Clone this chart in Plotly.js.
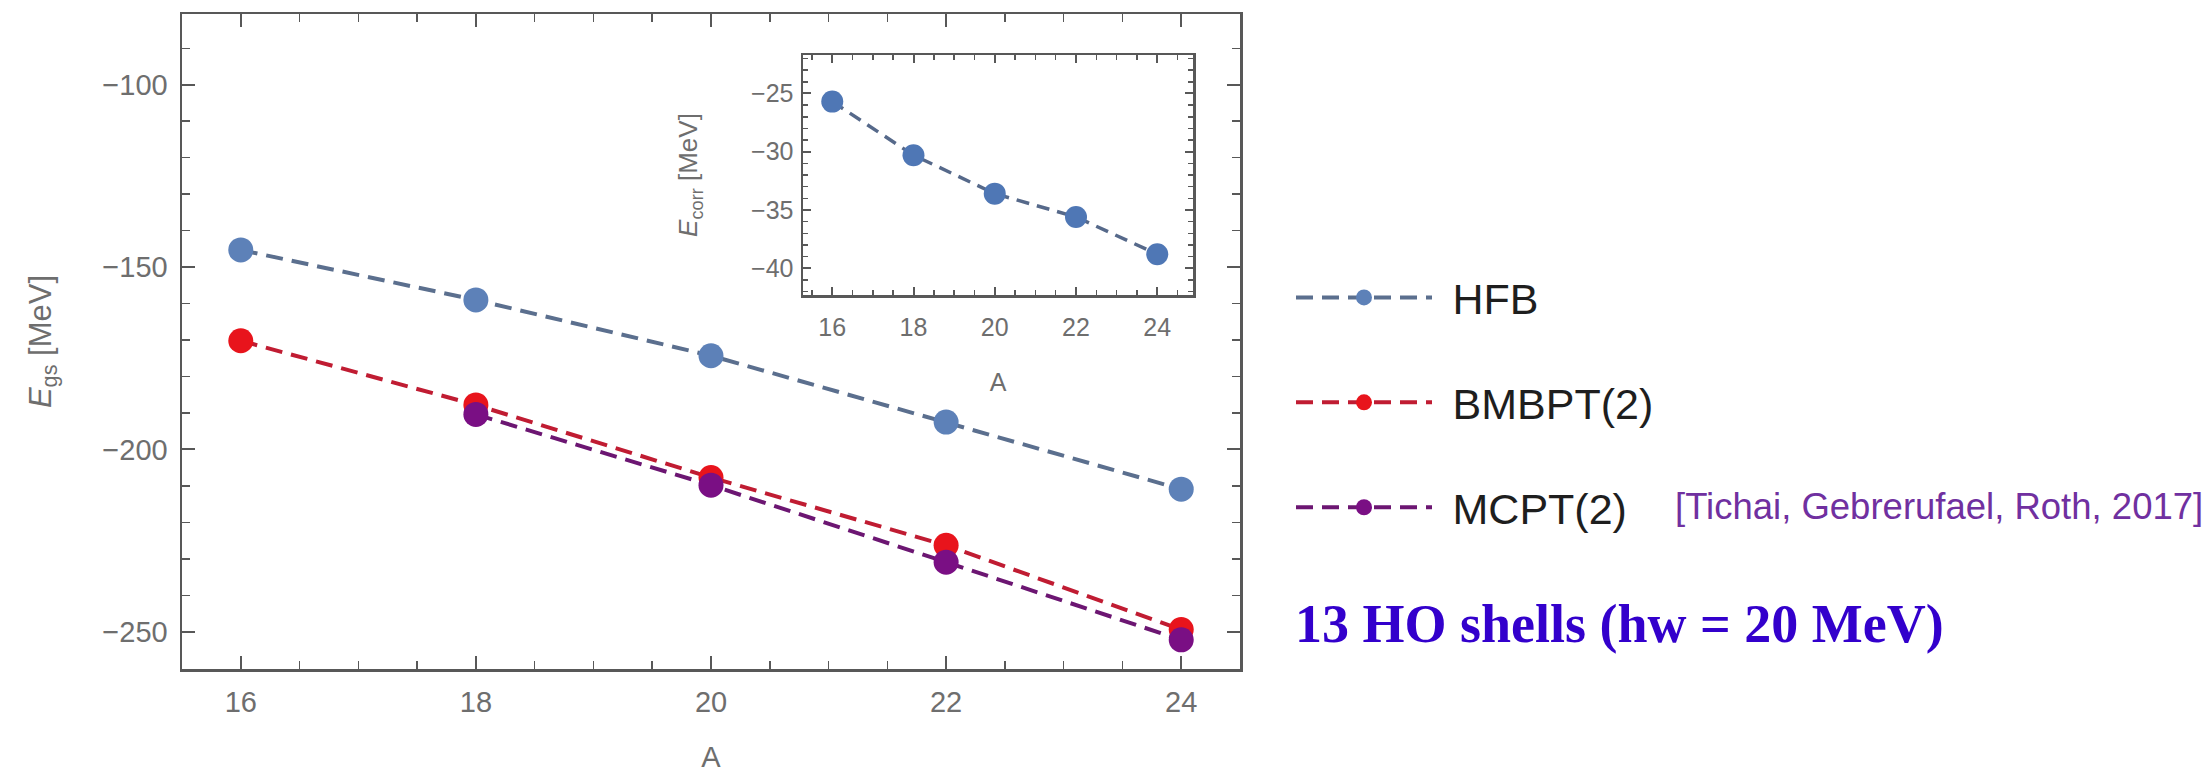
<!DOCTYPE html>
<html>
<head>
<meta charset="utf-8">
<script src="https://cdn.plot.ly/plotly-3.0.1.min.js"></script>
<style>html,body{margin:0;padding:0;background:#fff;}#chart{width:2212px;height:780px;}</style>
</head>
<body>
<div id="chart"></div>
<script>
// ---- data ----
const massNumbers = [16, 18, 20, 22, 24];
const hfbEnergy   = [-145.3, -159.0, -174.3, -192.5, -210.9];
const bmbptEnergy = [-170.2, -187.8, -207.7, -226.3, -249.4];
const mcptMass    = [18, 20, 22, 24];
const mcptEnergy  = [-190.4, -209.8, -230.9, -252.2];
const corrEnergy  = [-25.7, -30.3, -33.6, -35.6, -38.8];
const seriesNames = ['HFB', 'BMBPT(2)', 'MCPT(2)'];

const W = 2212, H = 780;
const px = v => v / W;
const py = v => 1 - v / H;

const fam = 'Liberation Sans, Arial, sans-serif';
const tickFont = {family: fam, size: 29, color: '#6e6e6e'};
const insetFont = {family: fam, size: 25, color: '#6e6e6e'};
const axisCol = '#585858';
const dash = '17px,9px';
const pad = '\u00a0\u200a';

const traces = [
  {x: massNumbers, y: hfbEnergy, name: pad + seriesNames[0], type: 'scatter', mode: 'lines+markers',
   line: {color: '#5b6f8e', width: 4, dash: dash}, marker: {color: '#5d81b8', size: 25},
   legendgroup: 'a', xaxis: 'x', yaxis: 'y'},
  {x: massNumbers, y: bmbptEnergy, name: pad + seriesNames[1], type: 'scatter', mode: 'lines+markers',
   line: {color: '#c01c32', width: 4, dash: dash}, marker: {color: '#e8141c', size: 25},
   legendgroup: 'b', xaxis: 'x', yaxis: 'y'},
  {x: mcptMass, y: mcptEnergy, name: pad + seriesNames[2], type: 'scatter', mode: 'lines+markers',
   line: {color: '#6c1672', width: 4, dash: dash}, marker: {color: '#7a0f84', size: 25},
   legendgroup: 'c', xaxis: 'x', yaxis: 'y'},
  {x: massNumbers, y: corrEnergy, name: 'Ecorr', type: 'scatter', mode: 'lines+markers',
   line: {color: '#56698a', width: 3.5, dash: '13px,8px'}, marker: {color: '#4f77b5', size: 22},
   showlegend: false, xaxis: 'x2', yaxis: 'y2'}
];

const layout = {
  width: W, height: H,
  margin: {l: 0, r: 0, t: 0, b: 0},
  paper_bgcolor: '#fff', plot_bgcolor: 'rgba(0,0,0,0)',
  showlegend: true,
  xaxis: {
    domain: [px(182), px(1240)], range: [15.5, 24.5], anchor: 'y',
    tickvals: massNumbers, ticktext: massNumbers.map(String),
    ticks: 'inside', ticklen: 13, tickwidth: 2, tickcolor: axisCol,
    minor: {dtick: 0.5, ticks: 'inside', ticklen: 8, tickwidth: 1.5, tickcolor: axisCol, showgrid: false},
    showline: true, linecolor: axisCol, linewidth: 2.5, mirror: 'allticks',
    showgrid: false, zeroline: false, tickfont: tickFont, ticklabelstandoff: 6,
    title: {text: 'A', font: {family: fam, size: 29, color: '#6e6e6e'}, standoff: 30}
  },
  yaxis: {
    domain: [py(669), py(14)], range: [-260.2, -80.6], anchor: 'x',
    dtick: 50, tick0: 0,
    ticks: 'inside', ticklen: 13, tickwidth: 2, tickcolor: axisCol,
    minor: {dtick: 10, ticks: 'inside', ticklen: 8, tickwidth: 1.5, tickcolor: axisCol, showgrid: false},
    showline: true, linecolor: axisCol, linewidth: 2.5, mirror: 'allticks',
    showgrid: false, zeroline: false, tickfont: tickFont, ticklabelstandoff: 6,
    title: {text: '<i>E</i><sub>gs</sub> [MeV]', font: {family: fam, size: 31, color: '#6e6e6e'}, standoff: 42}
  },
  xaxis2: {
    domain: [px(803), px(1193)], range: [15.28, 24.88], anchor: 'y2',
    tickvals: massNumbers, ticktext: massNumbers.map(String),
    ticks: 'inside', ticklen: 8, tickwidth: 2, tickcolor: axisCol,
    minor: {dtick: 0.5, ticks: 'inside', ticklen: 5, tickwidth: 1.5, tickcolor: axisCol, showgrid: false},
    showline: true, linecolor: axisCol, linewidth: 2.5, mirror: 'allticks',
    showgrid: false, zeroline: false, tickfont: insetFont, ticklabelstandoff: 8,
    title: {text: 'A', font: {family: fam, size: 25, color: '#6e6e6e'}, standoff: 34}
  },
  yaxis2: {
    domain: [py(295), py(55)], range: [-42.3, -21.7], anchor: 'x2',
    dtick: 5, tick0: 0,
    ticks: 'inside', ticklen: 8, tickwidth: 2, tickcolor: axisCol,
    minor: {dtick: 1, ticks: 'inside', ticklen: 5, tickwidth: 1.5, tickcolor: axisCol, showgrid: false},
    showline: true, linecolor: axisCol, linewidth: 2.5, mirror: 'allticks',
    showgrid: false, zeroline: false, tickfont: insetFont, ticklabelstandoff: 2,
    title: {text: '<i>E</i><sub>corr</sub> [MeV]', font: {family: fam, size: 26, color: '#6e6e6e'}, standoff: 46}
  },
  legend: {
    x: px(1291), xanchor: 'left', y: py(263), yanchor: 'top',
    font: {family: fam, size: 43, color: '#1e1e1e'},
    itemwidth: 136, traceorder: 'grouped', tracegroupgap: 46,
    bgcolor: 'rgba(0,0,0,0)', borderwidth: 0
  },
  shapes: [
    {type: 'rect', xref: 'paper', yref: 'paper', x0: px(803), x1: px(1193), y0: py(295), y1: py(55),
     fillcolor: '#fff', line: {width: 0}, layer: 'below'}
  ],
  annotations: [
    {text: '[Tichai, Gebrerufael, Roth, 2017]', xref: 'paper', yref: 'paper',
     x: px(1673), y: py(506), xanchor: 'left', yanchor: 'middle', showarrow: false,
     font: {family: fam, size: 36.5, color: '#7030a0'}},
    {text: '<b>13 HO shells (hw = 20 MeV)</b>', xref: 'paper', yref: 'paper',
     x: px(1293), y: py(624), xanchor: 'left', yanchor: 'middle', showarrow: false,
     font: {family: 'Liberation Serif, Times New Roman, serif', size: 54, color: '#3300cc'}}
  ]
};

Plotly.newPlot('chart', traces, layout, {displayModeBar: false, staticPlot: true});
</script>
</body>
</html>
